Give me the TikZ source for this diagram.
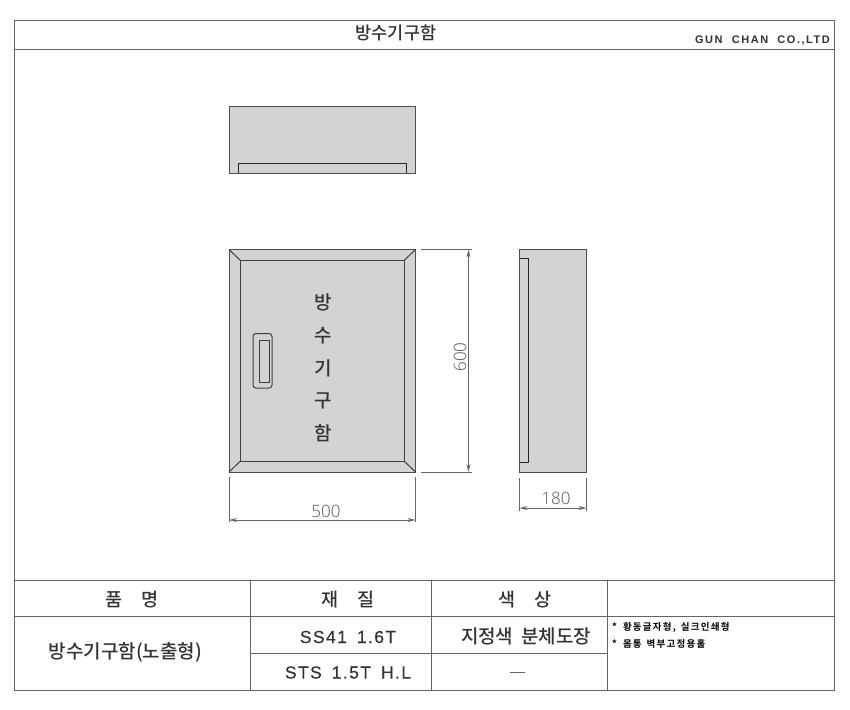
\documentclass[tikz,border=0pt]{standalone}
\usepackage{fontspec}
\setmainfont{Liberation Sans}
\newfontfamily\kr{Noto Sans CJK KR Medium}
\newfontfamily\krb[LetterSpace=13]{Noto Sans CJK KR Bold}
\newfontfamily\spaced[LetterSpace=8,FakeBold=0.25,WordSpace=1.6]{Liberation Sans}
\newfontfamily\spacedb[LetterSpace=14]{Liberation Sans Bold}
\newfontfamily\thinfont{Open Sans Light}
\usetikzlibrary{arrows.meta}
\definecolor{bodyfill}{HTML}{D3D3D3}
\definecolor{edge}{HTML}{4A4F55}
\definecolor{frameline}{HTML}{60656B}
\definecolor{dimline}{HTML}{666666}
\definecolor{txt}{HTML}{333333}
\tikzset{
  body/.style={draw=edge,fill=bodyfill,line width=1pt},
  detail/.style={draw=edge!80!black,line width=1pt},
  recess/.style={draw=black!85,line width=1.2pt},
  frameln/.style={draw=frameline,line width=1pt},
  dimext/.style={draw=dimline,line width=0.9pt},
  dimarrow/.style={draw=dimline,line width=0.9pt,{Stealth[length=8pt,width=4pt]}-{Stealth[length=8pt,width=4pt]}},
  dimtext/.style={text=dimline!85!black,font=\fontsize{17}{17}\selectfont\thinfont,inner sep=0pt},
  doortext/.style={text=txt,font=\fontsize{19}{19}\selectfont\kr,inner sep=0pt},
  celltext/.style={text=txt,font=\fontsize{18.5}{19}\selectfont\kr,inner sep=0pt},
  latintext/.style={text=txt,font=\fontsize{17.5}{18}\selectfont\spaced,inner sep=0pt},
  notetext/.style={text=black,font=\fontsize{9.5}{10}\selectfont\krb,inner sep=0pt,anchor=west},
}
\begin{document}
\begin{tikzpicture}[x=1pt,y=-1pt]
\useasboundingbox (0,0) rectangle (850,709);
\fill[white] (0,0) rectangle (850,709);
% frame
\draw[frameln] (14,20.5) rectangle (834.5,690);
\draw[frameln] (14,50) -- (834.5,50);
\draw[frameln] (14,580) -- (834.5,580);
\draw[frameln] (14,616.5) -- (834.5,616.5);
\draw[frameln] (250,653) -- (607,653);
\draw[frameln] (250.5,580) -- (250.5,690);
\draw[frameln] (431.5,580) -- (431.5,690);
\draw[frameln] (607,580) -- (607,690);
\node[text=txt,font=\fontsize{17.5}{18}\selectfont\kr,inner sep=0pt] (title) at (396,33) {방수기구함};
\node[text=txt,font=\fontsize{11}{11}\selectfont\spacedb,inner sep=0pt] (firm) at (762.5,40.5) {GUN\ \ CHAN\ \ CO.,LTD};
% top view
\draw[body] (229,106) rectangle (415.5,173);
\draw[recess] (238.5,173) -- (238.5,163.5) -- (406.5,163.5) -- (406.5,173);
% front view
\draw[body] (229,249.5) rectangle (415.5,472);
\draw[detail] (240.5,260.5) rectangle (404,461);
\draw[detail] (229,249.5) -- (240.5,260.5);
\draw[detail] (415.5,249.5) -- (404,260.5);
\draw[detail] (229,472) -- (240.5,461);
\draw[detail] (415.5,472) -- (404,461);
\draw[detail,rounded corners=3pt] (253,333.5) rectangle (272,388);
\draw[detail] (259.5,340) rectangle (269.5,382);
\node[doortext] (d1) at (323,302) {방};
\node[doortext] (d2) at (323,336) {수};
\node[doortext] (d3) at (323,368.5) {기};
\node[doortext] (d4) at (323,400.5) {구};
\node[doortext] (d5) at (323,433) {함};
% side view
\draw[body] (519.5,249.5) rectangle (586.5,472);
\draw[recess] (519.5,258.5) -- (528.5,258.5) -- (528.5,462.5) -- (519.5,462.5);
% dimensions
\coordinate (h1) at (421,249.5); \coordinate (h1e) at (472,249.5);
\coordinate (h2) at (421,472); \coordinate (h2e) at (472,472);
\coordinate (ha) at (468.5,249.5); \coordinate (hb) at (468.5,472);
\draw[dimext] (h1) -- (h1e); \draw[dimext] (h2) -- (h2e);
\draw[dimarrow] (ha) -- (hb);
\node[dimtext,rotate=90] (dim600) at (460,357) {600};
\coordinate (w1) at (229,477); \coordinate (w1e) at (229,522);
\coordinate (w2) at (415.5,477); \coordinate (w2e) at (415.5,522);
\coordinate (wa) at (229,520); \coordinate (wb) at (415.5,520);
\draw[dimext] (w1) -- (w1e); \draw[dimext] (w2) -- (w2e);
\draw[dimarrow] (wa) -- (wb);
\node[dimtext] (dim500) at (326,511) {500};
\coordinate (s1) at (519.5,478); \coordinate (s1e) at (519.5,511);
\coordinate (s2) at (586.5,478); \coordinate (s2e) at (586.5,511);
\coordinate (sa) at (519.5,508); \coordinate (sb) at (586.5,508);
\draw[dimext] (s1) -- (s1e); \draw[dimext] (s2) -- (s2e);
\draw[dimarrow] (sa) -- (sb);
\node[dimtext] (dim180) at (556,498.5) {180};
% table
\node[celltext] (c1) at (132,599.5) {품\hspace{1em}명};
\node[celltext] (c2) at (348,600) {재\hspace{1em}질};
\node[celltext] (c3) at (525,600) {색\hspace{1em}상};
\node[celltext,font=\fontsize{19}{19}\selectfont\kr] (c4) at (125.5,652) {방수기구함(노출형)};
\node[latintext] (c5) at (348,637) {SS41 1.6T};
\node[latintext] (c6) at (348,672.5) {STS 1.5T H.L};
\node[celltext,font=\fontsize{19}{19}\selectfont\kr] (c7) at (526,636) {지정색\hspace{0.4em}분체도장};
\draw[draw=dimline,line width=1.1pt] (510,672.5) -- (525,672.5);
\node[notetext] (n1) at (612,627.5) {*\hspace{6pt}황동글자형,\hspace{5pt}실크인쇄형};
\node[notetext] (n2) at (612,644) {*\hspace{6pt}몸통\hspace{5pt}벽부고정용홀};
\end{tikzpicture}
\end{document}
